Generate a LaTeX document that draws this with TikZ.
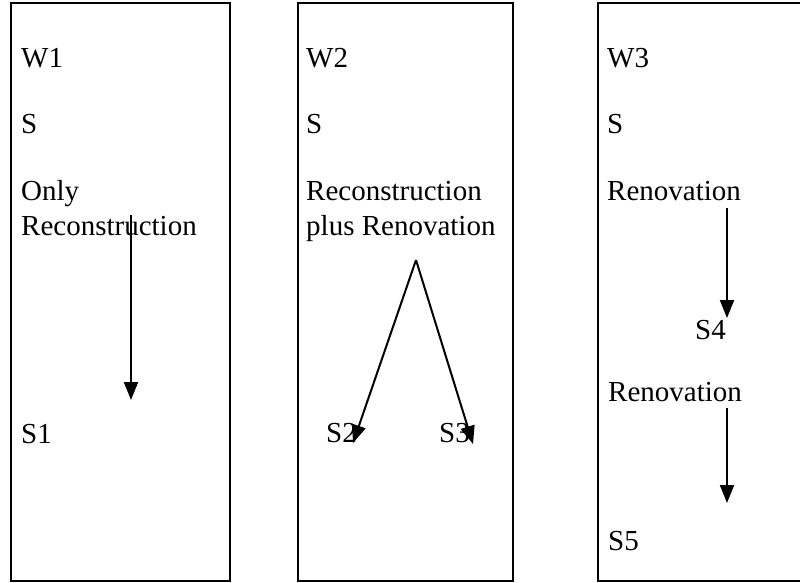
\documentclass[tikz,border=0pt]{standalone}
\usepackage{fontspec}
\setmainfont{Liberation Serif}
\usetikzlibrary{arrows.meta}

\begin{document}
\begin{tikzpicture}[x=1pt,y=-1pt,
    lbl/.style={anchor=base west,inner sep=0pt,font=\fontsize{29}{33}\selectfont},
    box/.style={draw,line width=2.5pt},
    flow/.style={-{Triangle[width=14pt,length=18pt]},line width=2pt}]
    \useasboundingbox (0,0) rectangle (800,583);
    \clip (0,0) rectangle (800,583);
    % three ways
    \draw[box] (11,3) rectangle (230,581);
    \draw[box] (298,3) rectangle (513,581);
    \draw[box] (598,3) rectangle (815,581);
    % way 1
    \node[lbl] (w1) at (21,68) {W1};
    \node[lbl] (s1a) at (21,133) {S};
    \node[lbl] (only) at (21,200) {Only};
    \node[lbl] (recon1) at (21,235) {Reconstruction};
    \node[lbl] (s1) at (21,443) {S1};
    % way 2
    \node[lbl] (w2) at (306,68) {W2};
    \node[lbl] (s2a) at (306,133) {S};
    \node[lbl] (recon2) at (306,200) {Reconstruction};
    \node[lbl] (plus) at (306,235) {plus Renovation};
    \node[lbl] (s2) at (326,442) {S2};
    \node[lbl] (s3) at (439,442) {S3};
    % way 3
    \node[lbl] (w3) at (607,68) {W3};
    \node[lbl] (s3a) at (607,133) {S};
    \node[lbl] (reno1) at (607,200) {Renovation};
    \node[lbl] (s4) at (695,339) {S4};
    \node[lbl] (reno2) at (608,401) {Renovation};
    \node[lbl] (s5) at (608,550) {S5};
    % arrow ends
    \coordinate (a1) at (131,215);
    \coordinate (b1) at (131,400);
    \coordinate (a2) at (416,260);
    \coordinate (b2) at (353,443);
    \coordinate (c2) at (473,444);
    \coordinate (a3) at (727,208);
    \coordinate (b3) at (727,318);
    \coordinate (a4) at (727,408);
    \coordinate (b4) at (727,503);
    \path[flow]
    (a1) edge (b1)
    (a2) edge (b2)
    (a2) edge (c2)
    (a3) edge (b3)
    (a4) edge (b4);
\end{tikzpicture}
\end{document}
